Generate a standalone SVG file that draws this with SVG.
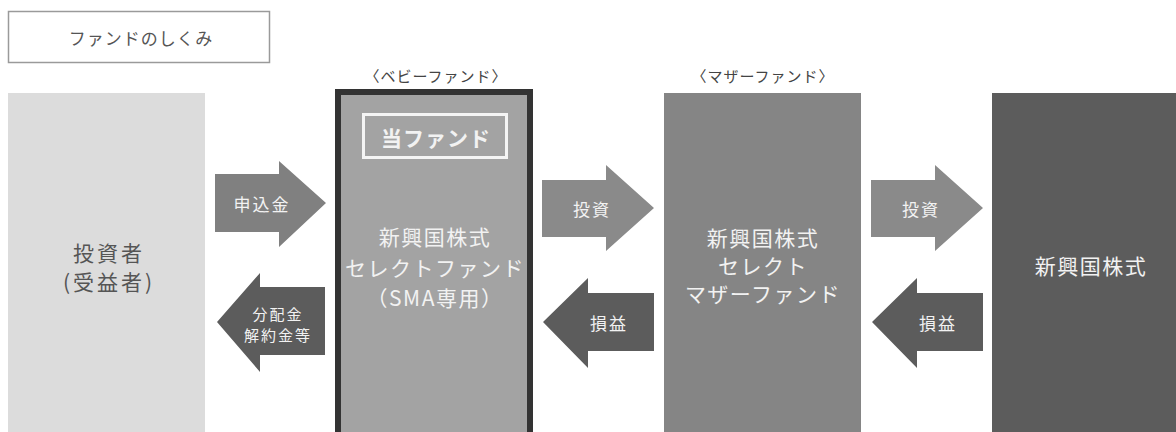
<svg xmlns="http://www.w3.org/2000/svg" width="1176" height="432" viewBox="0 0 1176 432">
<style>
text{font-family:"Noto Sans CJK JP","Noto Sans CJK SC",sans-serif;text-anchor:middle;dominant-baseline:central}
.w{fill:#f2f2f2}
.big{font-size:21px;letter-spacing:1.5px}
.inv{font-size:21px;letter-spacing:3px;fill:#555}
.lab{font-size:15px;letter-spacing:1px;fill:#444}
.arr{font-size:17px;letter-spacing:2px;fill:#f2f2f2}
.arr2{font-size:15px;letter-spacing:2px;fill:#f2f2f2}
.light{fill:#8a8a8a}
.dark{fill:#5c5c5c}
</style>
<rect width="1176" height="432" fill="#ffffff"/>
<g id="title">
<rect x="8.5" y="11.5" width="261" height="51" fill="#ffffff" stroke="#9a9a9a" stroke-width="1.5"/>
<text x="141" y="37" font-size="17" letter-spacing="1" fill="#555">ファンドのしくみ</text>
</g>
<g id="investor">
<rect x="8" y="93" width="197" height="345" fill="#dcdcdc"/>
<text class="inv" x="109" y="252">投資者</text>
<text class="inv" x="109" y="281">(受益者)</text>
</g>
<g id="baby">
<text class="lab" x="436" y="75">〈ベビーファンド〉</text>
<rect x="338" y="92" width="192" height="350" fill="#a3a3a3" stroke="#333333" stroke-width="6"/>
<rect x="363.5" y="114.5" width="143" height="43" fill="none" stroke="#f4f4f4" stroke-width="3"/>
<text class="w" x="436" y="137" font-size="21" font-weight="bold" letter-spacing="1">当ファンド</text>
<text class="w big" x="435" y="236">新興国株式</text>
<text class="w big" x="435" y="267">セレクトファンド</text>
<text class="w big" x="435" y="297">（SMA専用）</text>
</g>
<g id="mother">
<text class="lab" x="763" y="75">〈マザーファンド〉</text>
<rect x="664" y="93" width="197" height="345" fill="#858585"/>
<text class="w big" x="763" y="237">新興国株式</text>
<text class="w big" x="763" y="265">セレクト</text>
<text class="w big" x="763" y="293">マザーファンド</text>
</g>
<g id="stocks">
<rect x="992" y="93" width="190" height="345" fill="#5c5c5c"/>
<text class="w big" x="1091" y="265">新興国株式</text>
</g>
<g id="connectors">
<polygon fill="#808080" points="215,174 279,174 279,161 326,203 279,247 279,232 215,232"/>
<text class="arr" x="262" y="203">申込金</text>
<polygon class="dark" points="325,287 260,287 260,273 217,322 260,372 260,355 325,355"/>
<text class="arr2" x="278" y="313">分配金</text>
<text class="arr2" x="278" y="334">解約金等</text>
<polygon class="light" points="542,180 606,180 606,165 654,208 606,251 606,237 542,237"/>
<text class="arr" x="592" y="208">投資</text>
<polygon class="dark" points="654,293 588,293 588,278 543,322 588,368 588,351 654,351"/>
<text class="arr" x="609" y="322">損益</text>
<polygon class="light" points="871,180 935,180 935,165 983,208 935,251 935,237 871,237"/>
<text class="arr" x="921" y="208">投資</text>
<polygon class="dark" points="983,293 917,293 917,278 872,322 917,368 917,351 983,351"/>
<text class="arr" x="938" y="322">損益</text>
</g>
</svg>
